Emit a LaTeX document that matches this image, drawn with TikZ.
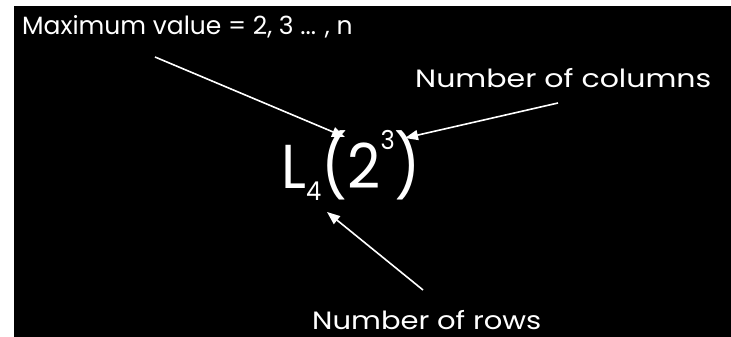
\documentclass[tikz,border=0pt]{standalone}
\usepackage{fontspec}
\setmainfont{Poppins}
\usetikzlibrary{arrows.meta}
\begin{document}
\begin{tikzpicture}[x=1pt,y=-1pt,
  lbl/.style={text=white,inner sep=0pt,anchor=north west,font=\fontsize{25}{25}\selectfont},
  arr/.style={draw=white,line width=1.6pt,-{Triangle[length=13pt,width=10pt]}}]
\useasboundingbox (0,0) rectangle (731,337);
\fill[white] (0,0) rectangle (731,337);
\fill[black] (14,6) rectangle (731,337);
\node[lbl] (max) at (22,15) {Maximum value = 2, 3 ... , n};
\node[lbl] (cols) at (415,68) {\scalebox{1.2}[1]{Number of columns}};
\node[lbl] (rows) at (312,310) {\scalebox{1.16}[1]{Number of rows}};
\node[text=white,inner sep=0pt,anchor=north west] (form) at (281,130)
  {\scalebox{0.93}[1]{\fontsize{62}{62}\selectfont L\raisebox{-0.2em}{\fontsize{26}{26}\selectfont 4}(2\raisebox{0.62em}{\fontsize{26}{26}\selectfont 3})}};
\coordinate (a1s) at (155,57);
\coordinate (a1e) at (345,137);
\coordinate (a2s) at (558,103);
\coordinate (a2e) at (405,138);
\coordinate (a3s) at (423,290);
\coordinate (a3e) at (327,212);
\draw[arr] (a1s) -- (a1e);
\draw[arr] (a2s) -- (a2e);
\draw[arr] (a3s) -- (a3e);
\end{tikzpicture}
\end{document}
